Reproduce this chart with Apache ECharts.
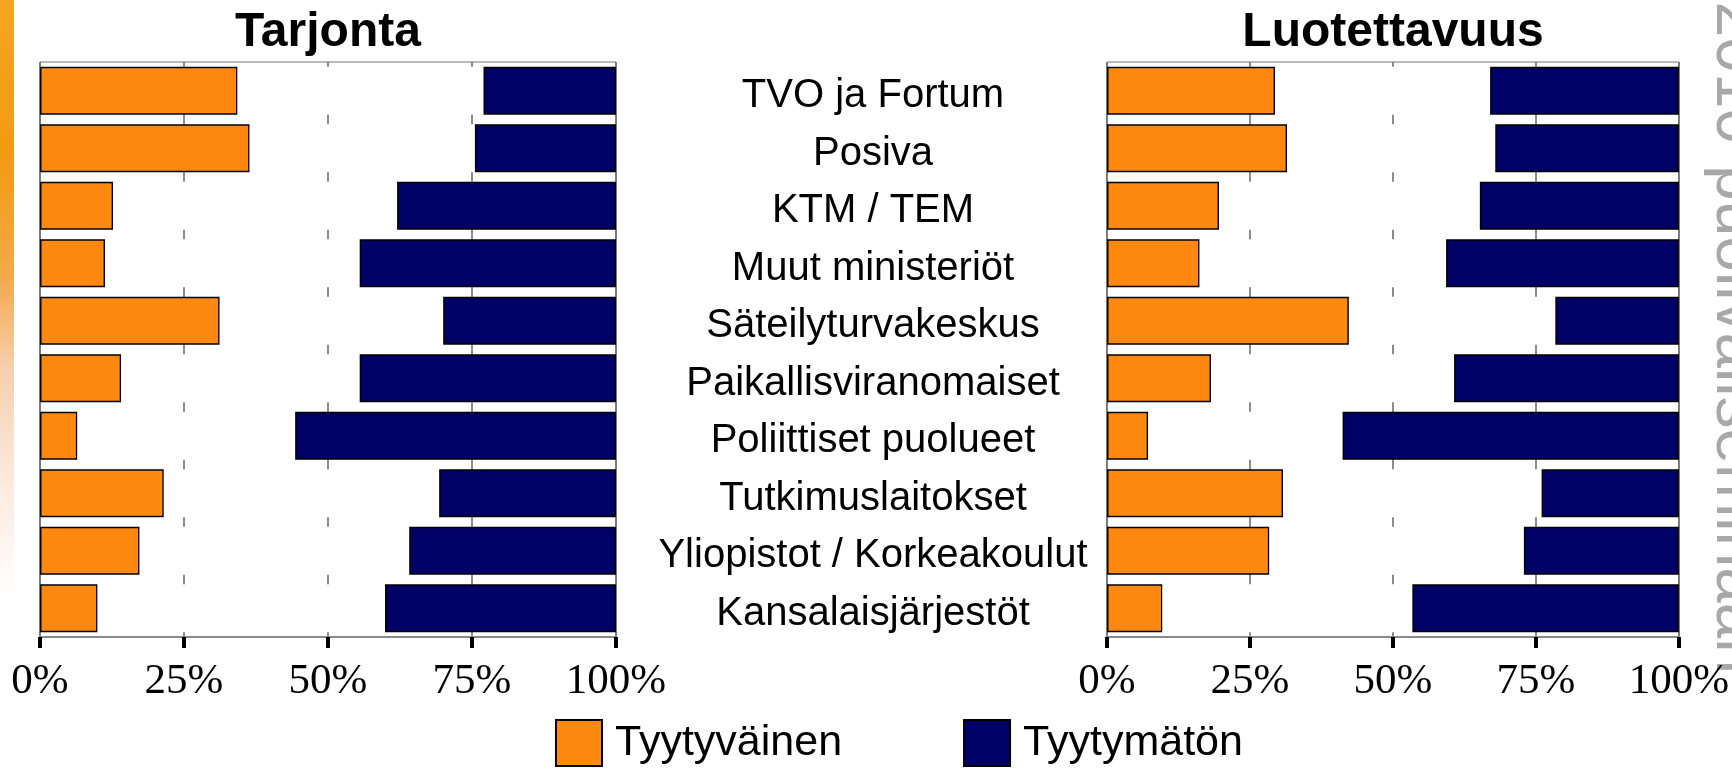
<!DOCTYPE html>
<html>
<head>
<meta charset="utf-8">
<script src="https://cdn.jsdelivr.net/npm/echarts@6/dist/echarts.min.js"></script>
<style>
html,body{margin:0;padding:0;background:#fff;}
#chart{width:1732px;height:769px;}
</style>
</head>
<body>
<div id="chart"></div>
<script>
const categories = ['TVO ja Fortum','Posiva','KTM / TEM','Muut ministeriöt','Säteilyturvakeskus','Paikallisviranomaiset','Poliittiset puolueet','Tutkimuslaitokset','Yliopistot / Korkeakoulut','Kansalaisjärjestöt'];
const seriesNames = ['Tyytyväinen', 'Tyytymätön'];
const panelTitles = ['Tarjonta', 'Luotettavuus'];
// Tarjonta (%)
const tarjontaSatisfied    = [34.3, 36.4, 12.7, 11.3, 31.2, 14.1, 6.5, 21.5, 17.3, 10.0];
const tarjontaNeutral      = [42.7, 39.1, 49.3, 44.2, 38.8, 41.4, 37.8, 47.8, 46.8, 49.9];
const tarjontaDissatisfied = [23.0, 24.5, 38.0, 44.5, 30.0, 44.5, 55.7, 30.7, 35.9, 40.1];
// Luotettavuus (%)
const luotSatisfied    = [29.4, 31.5, 19.6, 16.2, 42.3, 18.2, 7.2, 30.8, 28.4, 9.7];
const luotNeutral      = [37.6, 36.4, 45.6, 43.1, 36.1, 42.5, 34.0, 45.2, 44.5, 43.7];
const luotDissatisfied = [33.0, 32.1, 34.8, 40.7, 21.6, 39.3, 58.8, 24.0, 27.1, 46.6];
const axisMin = 0, axisMax = 100, axisStep = 25;
const sideText = 'KYT2010-puoliväliseminaari';

const ORANGE = '#ff8811', NAVY = '#000066';
const chart = echarts.init(document.getElementById('chart'), null, {renderer:'canvas'});

const grids = [
  {left: 40, right: 1732 - 616, top: 62, bottom: 769 - 637},
  {left: 1107, right: 1732 - 1680, top: 62, bottom: 769 - 637}
];
function xAxisFor(i){
  return {
    type:'value', gridIndex:i, min:axisMin, max:axisMax, interval:axisStep,
    axisLine:{show:true, lineStyle:{color:'#8a8a8a', width:2}},
    axisTick:{show:true, length:11, lineStyle:{color:'#000', width:4}},
    splitLine:{show:true, lineStyle:{color:'#666', width:1.5}},
    axisLabel:{formatter:'{value}%', fontFamily:'Liberation Serif', fontSize:43, color:'#000', margin:23}
  };
}
function yAxisFor(i){
  return {
    type:'category', gridIndex:i, data:categories, inverse:true,
    position: i === 0 ? 'right' : 'left',
    axisLine:{show:false}, axisTick:{show:false}, splitLine:{show:false},
    axisLabel: i === 0 ? {
      show:true, align:'center', margin:257,
      formatter: v => '{c|' + v + '}',
      rich:{c:{fontFamily:'Liberation Sans', fontSize:40, color:'#000', padding:[11,0,0,0]}}
    } : {show:false}
  };
}
function barSeries(i, sat, neu, dis){
  const st = 'stack' + i;
  return [
    {type:'bar', name:seriesNames[0], xAxisIndex:i, yAxisIndex:i, stack:st, barWidth:48, data:sat,
     itemStyle:{color:ORANGE, borderColor:'#000', borderWidth:1.5}},
    {type:'bar', name:'neutral', xAxisIndex:i, yAxisIndex:i, stack:st, barWidth:48, data:neu, silent:true,
     itemStyle:{color:'#ffffff', borderWidth:0}},
    {type:'bar', name:seriesNames[1], xAxisIndex:i, yAxisIndex:i, stack:st, barWidth:48, data:dis,
     itemStyle:{color:NAVY, borderColor:'#000', borderWidth:1.5}}
  ];
}

const option = {
  animation:false,
  backgroundColor:'#fff',
  grid: grids.map(g => Object.assign({show:true, borderColor:'#777', borderWidth:1, backgroundColor:'transparent'}, g)),
  xAxis:[xAxisFor(0), xAxisFor(1)],
  yAxis:[yAxisFor(0), yAxisFor(1)],
  legend:{
    data:seriesNames, left:550, top:714, itemWidth:46, itemHeight:46, itemGap:121, icon:'rect',
    textStyle:{fontFamily:'Liberation Sans', fontSize:43, color:'#000', padding:[0,0,0,8]}
  },
  graphic:[
    {type:'rect', shape:{x:0, y:0, width:14, height:769}, z:-10,
     style:{fill:new echarts.graphic.LinearGradient(0,0,0,1,[
       {offset:0, color:'#f7a520'},{offset:0.2, color:'#f39a12'},{offset:0.36, color:'#f4a84a'},
       {offset:0.48, color:'#f7cfae'},{offset:0.62, color:'#fce9dc'},{offset:0.78, color:'#ffffff'},{offset:1, color:'#ffffff'}])}},
    {type:'text', x:1703, y:-123, rotation:-Math.PI/2, z:-5,
     style:{text:sideText, fontFamily:'Liberation Sans', fontSize:64, fill:'#a8a8a8', align:'left', verticalAlign:'bottom'}},
    {type:'text', x:328, y:33, style:{text:panelTitles[0], fontFamily:'Liberation Sans', fontWeight:'bold', fontSize:48, fill:'#000', align:'center', verticalAlign:'middle'}},
    {type:'text', x:1393, y:33, style:{text:panelTitles[1], fontFamily:'Liberation Sans', fontWeight:'bold', fontSize:48, fill:'#000', align:'center', verticalAlign:'middle'}}
  ],
  series:[].concat(
    barSeries(0, tarjontaSatisfied, tarjontaNeutral, tarjontaDissatisfied),
    barSeries(1, luotSatisfied, luotNeutral, luotDissatisfied)
  )
};
chart.setOption(option);
</script>
</body>
</html>
